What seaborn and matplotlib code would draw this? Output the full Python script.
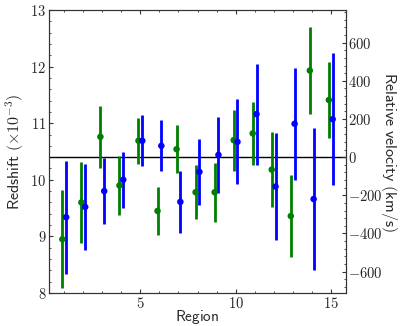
import numpy as np
import pandas as pd
import matplotlib
matplotlib.use("Agg")
import matplotlib.pyplot as plt
from matplotlib.ticker import MultipleLocator, FuncFormatter
import seaborn as sns

# ---- data (redshift x 1e-3) ----
regions = list(range(1, 16))
green_z = [8.95, 9.60, 10.76, 9.90, 10.69, 9.45, 10.54, 9.78, 9.78, 10.70, 10.82, 10.18, 9.36, 11.93, 11.41]
green_err = [0.87, 0.72, 0.55, 0.52, 0.41, 0.43, 0.42, 0.48, 0.52, 0.54, 0.55, 0.66, 0.72, 0.77, 0.68]
blue_z = [9.34, 9.52, 9.80, 10.00, 10.69, 10.60, 9.61, 10.14, 10.44, 10.67, 11.16, 9.88, 10.99, 9.66, 11.07]
blue_err = [1.00, 0.76, 0.58, 0.49, 0.45, 0.45, 0.55, 0.58, 0.67, 0.75, 0.89, 0.94, 0.99, 1.26, 1.17]
z_ref = 10.40
series_names = ["green", "blue"]
series_colors = {"green": "#008000", "blue": "#0000ff"}
x_offsets = {"green": -0.1, "blue": 0.1}

C_KMS = 299792.458

sns.set_theme(style="ticks")
plt.rcParams["mathtext.fontset"] = "cm"
plt.rcParams["font.family"] = ["DejaVu Sans"]

rows = []
for name, zs, es in [("green", green_z, green_err), ("blue", blue_z, blue_err)]:
    for r, z, e in zip(regions, zs, es):
        rows.append({"series": name, "x": r + x_offsets[name], "z": z, "err": e})
df = pd.DataFrame(rows)

fig = plt.figure(figsize=(4.07, 3.26), dpi=100)
ax = fig.add_axes([49 / 407, 1 - 293 / 326, (346 - 49) / 407, (293 - 10) / 326])

ax.axhline(z_ref, color="black", lw=1.0, zorder=1)
for name in series_names:
    d = df[df.series == name]
    ax.errorbar(d["x"], d["z"], yerr=d["err"], fmt="none", ecolor=series_colors[name],
                elinewidth=2.0, capsize=0, zorder=2)
sns.scatterplot(data=df, x="x", y="z", hue="series", palette=series_colors,
                s=22, edgecolor="none", legend=False, ax=ax, zorder=3)

ax.set_xlim(0.2, 15.8)
ax.set_ylim(8, 13)
ax.xaxis.set_major_locator(MultipleLocator(5))
ax.xaxis.set_minor_locator(MultipleLocator(1))
ax.yaxis.set_major_locator(MultipleLocator(1))
ax.yaxis.set_minor_locator(MultipleLocator(0.2))
fmt = FuncFormatter(lambda v, p: r"$%g$" % v)
ax.xaxis.set_major_formatter(fmt)
ax.yaxis.set_major_formatter(fmt)
ax.tick_params(which="both", direction="in", top=True, right=False, labelsize=10.5,
               color="#333333")
ax.tick_params(axis="x", pad=2)
ax.tick_params(axis="y", pad=2)
ax.tick_params(which="major", length=3.2, width=0.8)
ax.tick_params(which="minor", length=1.6, width=0.6)
for s in ax.spines.values():
    s.set_linewidth(0.8)
    s.set_color("#333333")

ax.set_xlabel(r"$\mathsf{Region}$", fontsize=11, labelpad=-2)
ax.set_ylabel(r"$\mathsf{Redshift}\ (\times10^{-3})$", fontsize=11.5, labelpad=3)

ax2 = ax.twinx()
factor = C_KMS * 1e-3 / (1 + z_ref * 1e-3)
lo, hi = ax.get_ylim()
ax2.set_ylim((lo - z_ref) * factor, (hi - z_ref) * factor)
ax2.yaxis.set_major_locator(MultipleLocator(200))
ax2.yaxis.set_minor_locator(MultipleLocator(40))
ax2.yaxis.set_major_formatter(fmt)
ax2.tick_params(which="both", direction="in", right=True, labelsize=10.5, pad=1.5, color="#333333")
ax2.tick_params(which="major", length=3.2, width=0.8)
ax2.tick_params(which="minor", length=1.6, width=0.6)
for s in ax2.spines.values():
    s.set_linewidth(0.8)
    s.set_color("#333333")
ax2.set_ylabel(r"$\mathsf{Relative\ velocity\ (km/s)}$", fontsize=11.5, rotation=270, labelpad=12)

fig.savefig("out.png", dpi=100)
